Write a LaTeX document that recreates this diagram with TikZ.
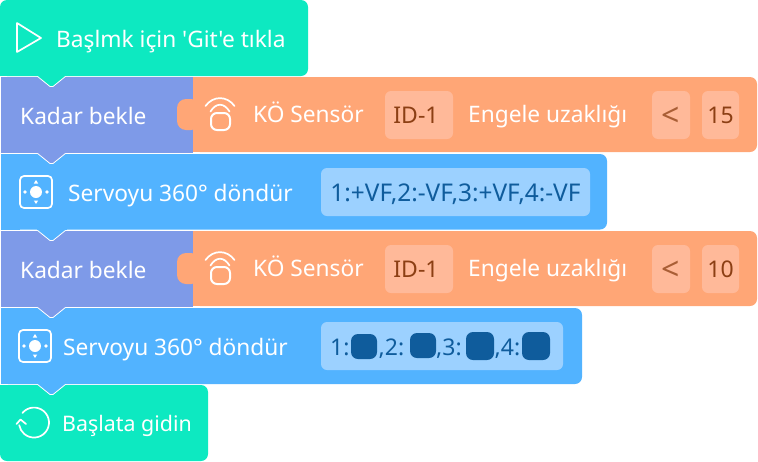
\documentclass[tikz,border=0pt]{standalone}
\usepackage{fontspec}
\newfontfamily\nf{Noto Sans}
\definecolor{teal}{HTML}{0DE9C1}
\definecolor{purp}{HTML}{7E9AE8}
\definecolor{oran}{HTML}{FFA676}
\definecolor{oranl}{HTML}{FFB999}
\definecolor{blu}{HTML}{52B3FF}
\definecolor{blul}{HTML}{9CD1FF}
\definecolor{dblu}{HTML}{0F5C9C}
\definecolor{brn}{HTML}{8C3F14}
\tikzset{
 x=1pt,y=-1pt,
 lbl/.style={text=white,font=\nf\fontsize{22.7}{26}\selectfont,inner sep=0pt,anchor=base west},
 inlbl/.style={font=\nf\fontsize{23}{26}\selectfont,inner sep=0pt,anchor=base},
 ltsym/.style={inlbl,text=brn!75!oranl,font=\nf\fontsize{32}{32}\selectfont},
 icon/.style={draw=white,line width=1.7pt,line join=round},
 slot/.style={rounded corners=6pt},
}
\newcommand{\notch}[3]{\fill[#3,draw=white,line width=.8pt,line join=round] (#1-14.5,#2) -- (#1-1.5,#2+10.5) to[out=40,in=140] (#1+1.5,#2+10.5) -- (#1+14.5,#2);
 \fill[#3] (#1-15,#2-1.5) rectangle (#1+15,#2+.1);}
\begin{document}
\begin{tikzpicture}
\useasboundingbox (0,0) rectangle (758,461);
% blocks
\fill[teal,rounded corners=7pt] (0,0) -- (308,0) -- (308,76) -- (0,76) -- cycle;
\fill[teal] (0,60) rectangle (20,76);
\fill[purp] (1,77) rectangle (193,153);
\fill[oran,rounded corners=7pt] (193,77) -- (757,77) -- (757,152) -- (193,152) -- cycle;
\fill[oran] (193,77) rectangle (210,152);
\fill[oran,rounded corners=9pt] (200,99) -- (177,99) -- (177,130) -- (200,130) -- cycle;
\fill[blu,rounded corners=7pt] (1,154) -- (607,154) -- (607,229.5) -- (1,229.5) -- cycle;
\fill[blu] (1,154) rectangle (20,229.5);
\fill[purp] (1,231) rectangle (193,307);
\fill[oran,rounded corners=7pt] (193,231) -- (757,231) -- (757,306) -- (193,306) -- cycle;
\fill[oran] (193,231) rectangle (210,306);
\fill[oran,rounded corners=9pt] (200,253) -- (177,253) -- (177,284) -- (200,284) -- cycle;
\fill[blu,rounded corners=7pt] (1,308) -- (582,308) -- (582,384) -- (1,384) -- cycle;
\fill[blu] (1,308) rectangle (20,384);
\fill[teal,rounded corners=7pt] (0,385) -- (208,385) -- (208,461) -- (0,461) -- cycle;
\fill[teal] (0,385) rectangle (20,400);
% notches
\notch{51.5}{76}{teal}
\notch{51.5}{153}{purp}
\notch{51.5}{230}{blu}
\notch{51.5}{307}{purp}
\notch{51.5}{384}{blu}
% slots
\fill[oranl,slot] (385,91) rectangle (453,139);
\fill[oranl,slot] (652,91) rectangle (690,139);
\fill[oranl,slot] (702,91) rectangle (739,139);
\fill[oranl,slot] (385,245) rectangle (453,293);
\fill[oranl,slot] (652,245) rectangle (690,293);
\fill[oranl,slot] (702,245) rectangle (739,293);
\fill[blul,slot] (321,168) rectangle (590,216);
\fill[blul,slot] (321,322) rectangle (563,370);
\foreach \a/\b/\c/\d in {351/377/334/359,410/436/333/358,466/494/332/360,522/550/332/360}{
 \fill[dblu,rounded corners=7pt] (\a,\c) rectangle (\b,\d);}
% texts
\node[lbl] (t1) at (56,47) {Başlmk için 'Git'e tıkla};
\node[lbl] (t2) at (20,124) {Kadar bekle};
\node[lbl] (t3) at (253,122) {KÖ Sensör};
\node[lbl] (t4) at (468,122) {Engele uzaklığı};
\node[inlbl,text=brn] (t5) at (416,123) {ID-1};
\node[ltsym] (t6) at (671,126) {<};
\node[inlbl,text=brn] (t7) at (720.5,123) {15};
\node[lbl] (t8) at (68,201) {Servoyu 360° döndür};
\node[inlbl,text=dblu,font=\nf\fontsize{24.4}{26}\selectfont] (t9) at (455.5,201) {1:+VF,2:-VF,3:+VF,4:-VF};
\node[lbl] (t10) at (20,278) {Kadar bekle};
\node[lbl] (t11) at (253,276) {KÖ Sensör};
\node[lbl] (t12) at (468,276) {Engele uzaklığı};
\node[inlbl,text=brn] (t13) at (416,277) {ID-1};
\node[ltsym] (t14) at (671,280) {<};
\node[inlbl,text=brn] (t15) at (720.5,277) {10};
\node[lbl] (t16) at (63,355) {Servoyu 360° döndür};
\node[inlbl,text=dblu,anchor=base west] (t17) at (330,355) {1:};
\node[inlbl,text=dblu,anchor=base west] (t18) at (378.5,355) {,2:};
\node[inlbl,text=dblu,anchor=base west] (t19) at (436,355) {,3:};
\node[inlbl,text=dblu,anchor=base west] (t20) at (494.5,355) {,4:};
\node[lbl,font=\nf\fontsize{21.4}{26}\selectfont] (t21) at (62,431) {Başlata gidin};
% play icon
\draw[icon] (17,23) -- (41,38) -- (17,52) -- cycle;
% sensor icons
\foreach \dy in {0,154}{
 \begin{scope}[yshift=-\dy pt]
 \draw[icon,line width=2pt,rounded corners=6pt] (211,113) rectangle (230,130);
 \draw[icon,line cap=round] (205.5,106) .. controls (213,95.5) and (227,95.5) .. (234.5,106);
 \draw[icon,line cap=round] (210.5,111.5) .. controls (216,102.5) and (224,102.5) .. (229.5,111.5);
 \end{scope}}
% servo icons
\foreach \cx/\cy in {36/192,35/346}{
 \draw[icon,rounded corners=4pt] (\cx-16,\cy-16) rectangle (\cx+16,\cy+16);
 \fill[white] (\cx,\cy) circle (6);
 \fill[white] (\cx-11,\cy) circle (1.8);
 \fill[white] (\cx+11,\cy) circle (1.8);
 \fill[white] (\cx,\cy-12) -- (\cx-2.2,\cy-8.5) -- (\cx+2.2,\cy-8.5) -- cycle;
 \fill[white] (\cx,\cy+12) -- (\cx-2.2,\cy+8.5) -- (\cx+2.2,\cy+8.5) -- cycle;
}
% restart icon
\draw[icon,line cap=round] (22.5,412.9) arc[start angle=-140,end angle=170,radius=15];
\draw[icon,line cap=round] (16.5,424) -- (20.5,419.5) -- (26,424);
\end{tikzpicture}
\end{document}
